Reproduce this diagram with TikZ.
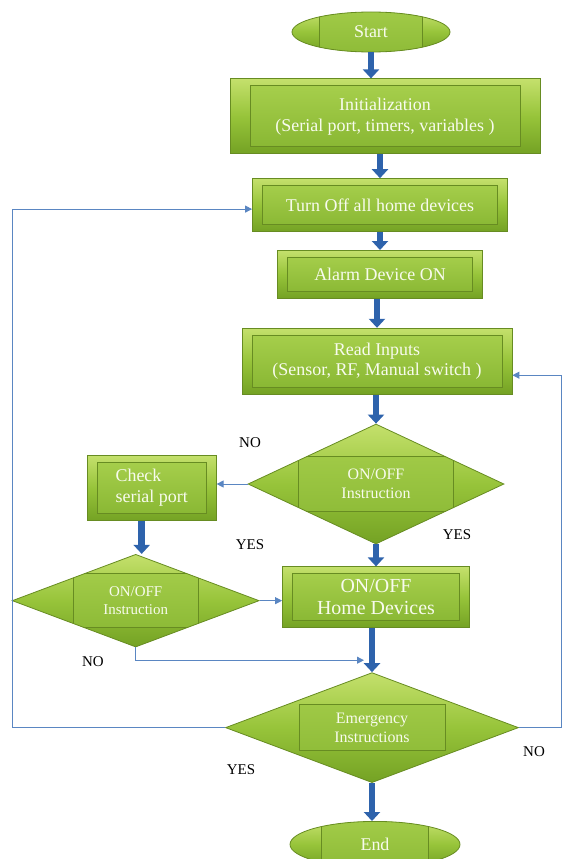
\documentclass[tikz,border=0pt]{standalone}
\usepackage{fontspec}
\setmainfont{Liberation Serif}
\usetikzlibrary{arrows.meta,positioning,shapes.geometric}
\definecolor{leaftop}{HTML}{C4E06C}
\definecolor{leafmid}{HTML}{97C43A}
\definecolor{leafbot}{HTML}{74A224}
\definecolor{leafedge}{HTML}{678C22}
\definecolor{bevtop}{HTML}{A9D14E}
\definecolor{bevbot}{HTML}{86B531}
\definecolor{flowblue}{HTML}{2E63AC}
\definecolor{wireblue}{HTML}{5A86C2}
\definecolor{pale}{HTML}{F8FBEE}

\begin{document}
\begin{tikzpicture}[x=1bp,y=1bp,>={Triangle[length=7bp,width=7bp]}]
\tikzset{bevel w/.store in=\bevw,bevel h/.store in=\bevh,bevel x/.store in=\bevx,
  bevel w=100bp,bevel h=60bp,bevel x=10bp,
  leaf/.style={draw=leafedge,line width=0.8bp,top color=leaftop,bottom color=leafbot,middle color=leafmid,
    text=pale,align=center,inner sep=0pt},
  box/.style={leaf,rectangle,font=\fontsize{18}{21}\selectfont,
    path picture={\draw[leafedge,top color=bevtop,bottom color=bevbot]
      ([shift={(\bevx,-7bp)}]path picture bounding box.north west) rectangle
      ([shift={(-\bevx,7bp)}]path picture bounding box.south east);}},
  inset/.style={path picture={\draw[leafedge,top color=bevtop,bottom color=bevbot]
      ([xshift=-\bevw/2,yshift=-\bevh/2]path picture bounding box.center) rectangle
      ([xshift=\bevw/2,yshift=\bevh/2]path picture bounding box.center);}},
  decision/.style={leaf,diamond,inset,font=\fontsize{16}{19}\selectfont},
  terminal/.style={leaf,ellipse,inset,bevel h=80bp,font=\fontsize{18}{21}\selectfont},
  flow/.style={line width=6.5bp,draw=flowblue,-{Triangle[length=9bp,width=16bp]}},
  link/.style={line width=1bp,draw=wireblue,->},
  tag/.style={font=\fontsize{15}{17}\selectfont,text=black}}
\useasboundingbox (0,0) rectangle (564,-859);
\node[terminal,minimum width=158bp,minimum height=40bp,bevel w=103bp] (start) at (371,-32) {Start};
\node[box,below=26bp of start,xshift=14bp,minimum width=310bp,minimum height=75bp,bevel x=20bp] (init) {Initialization\\(Serial port, timers, variables )};
\node[box,below=24bp of init,xshift=-5bp,minimum width=255bp,minimum height=53bp] (turn) {Turn Off all home devices};
\node[box,below=18bp of turn,minimum width=205bp,minimum height=48bp] (alarm) {Alarm Device ON};
\node[box,below=29bp of alarm,xshift=-3bp,minimum width=270bp,minimum height=66bp] (read) {Read Inputs\\(Sensor, RF, Manual switch )};
\node[decision,below=29bp of read,xshift=-1bp,minimum width=256bp,minimum height=120bp,bevel w=155bp,bevel h=55bp] (dec1) {ON/OFF\\Instruction};
\node[box,below=22bp of dec1,minimum width=187bp,minimum height=61bp,font=\fontsize{20}{22}\selectfont] (home) {ON/OFF\\Home Devices};
\coordinate[below=32bp of home] (merge);
\node[decision,below=44bp of home,xshift=-4bp,minimum width=293bp,minimum height=110bp,bevel w=146bp,bevel h=46bp] (emerg) {Emergency\\Instructions};
\node[terminal,below=38bp of emerg,xshift=3bp,minimum width=170bp,minimum height=46bp,bevel w=107bp] (end) {End};
\node[box,left=31bp of dec1,yshift=-4bp,minimum width=129bp,minimum height=65bp,align=left] (check) {Check\\serial port};
\node[decision,below=33bp of check,xshift=-16bp,minimum width=247bp,minimum height=92bp,bevel w=125bp,bevel h=54bp,font=\fontsize{15}{18}\selectfont] (dec2) {ON/OFF\\Instruction};
\node[tag] (no1) at (250,-443) {NO};
\node[tag] (yes1) at (457,-535) {YES};
\node[tag] (yes2) at (250,-545) {YES};
\node[tag] (no2) at (93,-662) {NO};
\node[tag] (no3) at (534,-752) {NO};
\node[tag] (yes3) at (241,-770) {YES};
\draw[flow] (start) -- (start |- init.north);
\draw[flow] (turn.north |- init.south) -- (turn);
\draw[flow] (turn) -- (alarm);
\draw[flow] (read |- alarm.south) -- (read);
\draw[flow] (dec1 |- read.south) -- (dec1);
\draw[flow] (dec1) -- (home);
\draw[flow] (emerg |- home.south) -- (emerg);
\draw[flow] (emerg) -- (emerg |- end.north);
\draw[flow] ([xshift=-10bp]check.south) -- ([xshift=-10bp]check.south |- dec2.north);
\draw[link] (dec1.west) -- (dec1.west -| check.east);
\draw[link] (dec2.east) -- (dec2.east -| home.west);
\draw[link] (dec2.south) |- ([xshift=-12bp]merge);
\draw[link] (emerg.west) -- ++(-213,0) |- ([yshift=-4bp]turn.west);
\draw[link] (emerg.east) -- ++(43,0) |- ([yshift=-14bp]read.east);
\end{tikzpicture}
\end{document}
